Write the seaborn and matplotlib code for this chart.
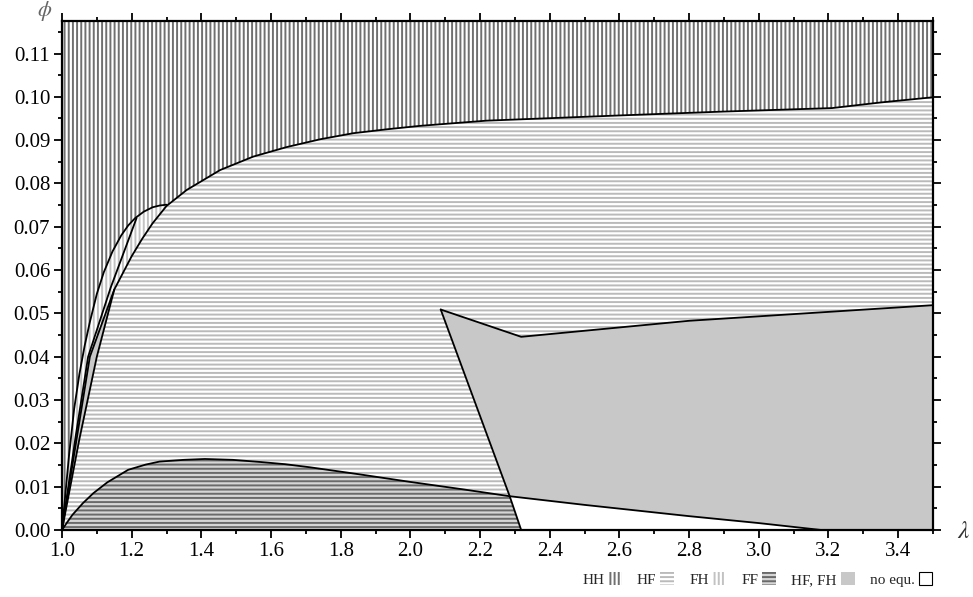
import numpy as np
import matplotlib
matplotlib.use("Agg")
import matplotlib.pyplot as plt
import seaborn as sns
from matplotlib.patches import Patch

# courbes (lambda, phi)
lam_A = [1.0, 1.01, 1.02, 1.035, 1.05, 1.065, 1.08, 1.10, 1.12, 1.145, 1.17, 1.19,
         1.21, 1.235, 1.26, 1.28, 1.30]
phi_A = [0.0, 0.0085, 0.017, 0.028, 0.036, 0.0425, 0.048, 0.0545, 0.0595, 0.0643,
         0.0680, 0.0703, 0.0720, 0.0735, 0.0745, 0.0749, 0.0751]

lam_B = [1.0, 1.05, 1.10, 1.15, 1.20, 1.23, 1.26, 1.30, 1.358, 1.454, 1.549, 1.645,
         1.741, 1.836, 1.932, 2.028, 2.123, 2.219, 2.315, 2.6, 2.9, 3.21, 3.35, 3.5]
phi_B = [0.0, 0.021, 0.040, 0.0555, 0.0632, 0.0672, 0.0708, 0.0748, 0.0785, 0.0831,
         0.0862, 0.0884, 0.0902, 0.0916, 0.0925, 0.0933, 0.0939, 0.0945, 0.0948,
         0.0957, 0.0966, 0.0974, 0.0987, 0.0999]

lam_C = [1.0, 1.04, 1.075, 1.14, 1.214]
phi_C = [0.0, 0.022, 0.040, 0.056, 0.072]

lam_D = [1.0, 1.04, 1.08, 1.15]
phi_D = [0.0, 0.020, 0.040, 0.0555]

lam_E = [1.0, 1.015, 1.03, 1.06, 1.09, 1.13, 1.19, 1.24, 1.28, 1.35, 1.41, 1.49,
         1.57, 1.64, 1.71, 1.85, 2.0, 2.15, 2.285, 2.5, 2.8, 3.0, 3.18]
phi_E = [0.0, 0.0018, 0.0035, 0.0062, 0.0085, 0.011, 0.0139, 0.0151, 0.0158, 0.0162,
         0.0164, 0.0162, 0.0157, 0.0152, 0.0145, 0.0129, 0.0111, 0.0094, 0.0078,
         0.0058, 0.0032, 0.0016, 0.0]

lam_cut = [2.087, 2.285, 2.318]
phi_cut = [0.0509, 0.0078, 0.0]

lam_G = [2.087, 2.318, 2.8, 3.5]
phi_G = [0.0509, 0.0446, 0.0483, 0.0519]

xlim = (1.0, 3.5)
ylim = (0.0, 0.1175)

legend_labels = ["HH", "HF", "FH", "FF", "HF, FH", "no equ."]

sns.set_theme(style="ticks")
plt.rcParams['font.family'] = ['Liberation Serif', 'DejaVu Serif']
plt.rcParams['mathtext.fontset'] = 'stix'
plt.rcParams['hatch.linewidth'] = 1.4

fig = plt.figure(figsize=(9.73, 5.97), dpi=100)
ax = fig.add_axes([0.0637, 0.1122, 0.8952, 0.8526])

c_hh = '#707070'
c_hf = '#bababa'
c_fh = '#c2c2c2'
c_ff = '#6a6a6a'
c_gray = '#c8c8c8'

lA, pA = np.array(lam_A), np.array(phi_A)
lB, pB = np.array(lam_B), np.array(phi_B)
lC, pC = np.array(lam_C), np.array(phi_C)
lD, pD = np.array(lam_D), np.array(phi_D)
lE, pE = np.array(lam_E), np.array(phi_E)
lG, pG = np.array(lam_G), np.array(phi_G)

# HH : tout le fond
ax.fill([xlim[0], xlim[1], xlim[1], xlim[0]], [ylim[0], ylim[0], ylim[1], ylim[1]],
        facecolor='white', edgecolor=c_hh, hatch='||||', linewidth=0, zorder=1)

# HF : sous la courbe B
ax.fill(np.r_[lB, xlim[1], xlim[0]], np.r_[pB, 0, 0],
        facecolor='white', edgecolor=c_hf, hatch='----', linewidth=0, zorder=2)

# FH : entre A et B
mB = lB <= lA[-1]
ax.fill(np.r_[lA, lB[mB][::-1]], np.r_[pA, pB[mB][::-1]],
        facecolor='white', edgecolor=c_fh, hatch='||||', linewidth=0, zorder=3)

# HF, FH : mince bande entre D et B
mD = lB <= lD[-1]
ax.fill(np.r_[lD, lB[mD][::-1]], np.r_[pD, pB[mD][::-1]],
        facecolor=c_gray, linewidth=0, zorder=4)

# FF : sous la bosse
k = int(np.argmin(np.abs(lE - lam_cut[1])))
ax.fill(np.r_[lE[:k + 1], lam_cut[2]], np.r_[pE[:k + 1], phi_cut[2]],
        facecolor='#d6d6d6', edgecolor=c_ff, hatch='----', linewidth=0, zorder=4)

# HF, FH : grande zone grise
ax.fill(np.r_[lG, xlim[1], lE[k:][::-1]], np.r_[pG, 0, pE[k:][::-1]],
        facecolor=c_gray, linewidth=0, zorder=4)

# pas d'equilibre
ax.fill(np.r_[lE[k:], lam_cut[2]], np.r_[pE[k:], phi_cut[2]],
        facecolor='white', linewidth=0, zorder=5)

# frontieres
for xs, ys in [(lA, pA), (lB, pB), (lC, pC), (lD, pD), (lE, pE),
               (np.array(lam_cut), np.array(phi_cut)), (lG, pG)]:
    sns.lineplot(x=xs, y=ys, sort=False, estimator=None, color='black',
                 linewidth=1.3, ax=ax, zorder=6)

ax.set_xlim(*xlim)
ax.set_ylim(*ylim)
ax.set_xticks(np.arange(1.0, 3.41, 0.2))
ax.set_xticks(np.arange(1.1, 3.51, 0.2), minor=True)
ax.set_xticklabels([f"{v:.1f}" for v in np.arange(1.0, 3.41, 0.2)])
ax.set_yticks(np.arange(0.0, 0.111, 0.01))
ax.set_yticks(np.arange(0.005, 0.116, 0.01), minor=True)
ax.set_yticklabels([f"{v:.2f}" for v in np.arange(0.0, 0.111, 0.01)])
ax.tick_params(which='both', direction='inout', top=True, right=True,
               colors='black', width=1.3, labelsize=15, pad=3)
ax.tick_params(which='major', length=11)
ax.tick_params(which='minor', length=6)
for s in ax.spines.values():
    s.set_linewidth(1.6)
    s.set_color('black')
    s.set_zorder(10)
ax.set_xlabel('')
ax.set_ylabel('')

fig.text(0.046, 0.982, r'$\phi$', fontsize=16, color='#666666', ha='center', va='center')
fig.text(0.990, 0.109, r'$\lambda$', fontsize=18, color='#333333', ha='center', va='center')

handles = [
    Patch(facecolor='white', edgecolor=c_hh, hatch='||||', linewidth=0),
    Patch(facecolor='white', edgecolor=c_hf, hatch='----', linewidth=0),
    Patch(facecolor='white', edgecolor=c_fh, hatch='||||', linewidth=0),
    Patch(facecolor='#d6d6d6', edgecolor=c_ff, hatch='----', linewidth=0),
    Patch(facecolor=c_gray, linewidth=0),
    Patch(facecolor='white', edgecolor='black', linewidth=0.8),
]
fig.legend(handles, legend_labels, loc='center right', bbox_to_anchor=(0.966, 0.029),
           ncol=6, frameon=False, markerfirst=False, fontsize=11, borderpad=0,
           handlelength=0.9, handleheight=0.9, handletextpad=0.25, columnspacing=1.0)

fig.savefig('out.png', dpi=100)
